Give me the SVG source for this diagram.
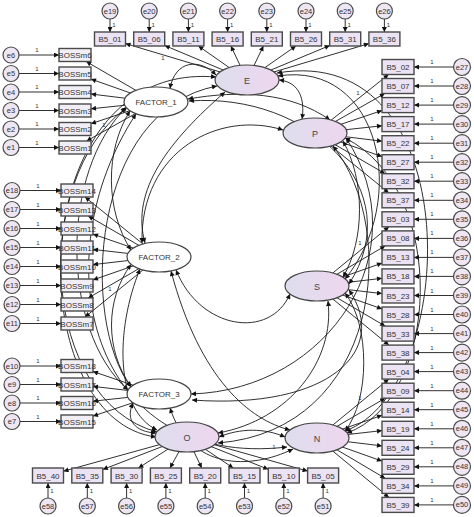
<svg xmlns="http://www.w3.org/2000/svg" width="474" height="517" viewBox="0 0 474 517">
<style>
.bx{fill:#ebe3f3;stroke:#4a4a4a;stroke-width:1.4}
.bm{fill:#f2eef5;stroke:#4a4a4a;stroke-width:1.4}
.er{fill:#efe6f4;stroke:#4a4a4a;stroke-width:1.2}
.lt{stroke:#444;stroke-width:1.2}
.fw{fill:#ffffff}
.t{font-family:"Liberation Sans",Arial,sans-serif;font-size:8px;fill:#333;text-anchor:middle}
.te{font-family:"Liberation Sans",Arial,sans-serif;font-size:7.5px;fill:#333;text-anchor:middle}
.tl{font-family:"Liberation Sans",Arial,sans-serif;font-size:9px;fill:#444;text-anchor:middle}
.o{font-family:"Liberation Sans",Arial,sans-serif;font-size:6px;fill:#333;text-anchor:middle}
.a{stroke:#1a1a1a;stroke-width:0.9;fill:none;marker-end:url(#ah)}
.c{stroke:#1a1a1a;stroke-width:0.9;fill:none;marker-start:url(#ah);marker-end:url(#ah)}
</style>
<defs>
<marker id="ah" viewBox="0 0 10 10" refX="10" refY="5" markerWidth="8" markerHeight="5" orient="auto-start-reverse" markerUnits="userSpaceOnUse"><path d="M0,0 L10,5 L0,10 z" fill="#111"/></marker>
<linearGradient id="lg" x1="0" y1="0" x2="1" y2="0"><stop offset="0" stop-color="#dedeed"/><stop offset="1" stop-color="#eed6ef"/></linearGradient>
</defs>
<rect width="474" height="517" fill="#ffffff"/>

<g id="connectors">
<line class="a" x1="110" y1="19" x2="110" y2="32"/><line class="a" x1="149.2" y1="19" x2="149.2" y2="32"/><line class="a" x1="188.4" y1="19" x2="188.4" y2="32"/><line class="a" x1="227.6" y1="19" x2="227.6" y2="32"/><line class="a" x1="266.8" y1="19" x2="266.8" y2="32"/><line class="a" x1="306" y1="19" x2="306" y2="32"/><line class="a" x1="345.2" y1="19" x2="345.2" y2="32"/><line class="a" x1="384.4" y1="19" x2="384.4" y2="32"/>
<line class="a" x1="19" y1="55" x2="59" y2="55"/><line class="a" x1="19" y1="73.5" x2="59" y2="73.5"/><line class="a" x1="19" y1="92" x2="59" y2="92"/><line class="a" x1="19" y1="110.5" x2="59" y2="110.5"/><line class="a" x1="19" y1="129" x2="59" y2="129"/><line class="a" x1="19" y1="147.5" x2="59" y2="147.5"/>
<line class="a" x1="20" y1="190.5" x2="61" y2="190.5"/><line class="a" x1="20" y1="209.5" x2="61" y2="209.5"/><line class="a" x1="20" y1="228.5" x2="61" y2="228.5"/><line class="a" x1="20" y1="247.5" x2="61" y2="247.5"/><line class="a" x1="20" y1="266.5" x2="61" y2="266.5"/><line class="a" x1="20" y1="285.5" x2="61" y2="285.5"/><line class="a" x1="20" y1="304.5" x2="61" y2="304.5"/><line class="a" x1="20" y1="323.5" x2="61" y2="323.5"/>
<line class="a" x1="20" y1="366" x2="61" y2="366"/><line class="a" x1="20" y1="384.5" x2="61" y2="384.5"/><line class="a" x1="20" y1="403" x2="61" y2="403"/><line class="a" x1="20" y1="421.5" x2="61" y2="421.5"/>
<line class="a" x1="453.5" y1="67" x2="414" y2="67"/><line class="a" x1="453.5" y1="86" x2="414" y2="86"/><line class="a" x1="453.5" y1="105.1" x2="414" y2="105.1"/><line class="a" x1="453.5" y1="124.1" x2="414" y2="124.1"/><line class="a" x1="453.5" y1="143.2" x2="414" y2="143.2"/><line class="a" x1="453.5" y1="162.2" x2="414" y2="162.2"/><line class="a" x1="453.5" y1="181.2" x2="414" y2="181.2"/><line class="a" x1="453.5" y1="200.3" x2="414" y2="200.3"/>
<line class="a" x1="453.5" y1="219.3" x2="414" y2="219.3"/><line class="a" x1="453.5" y1="238.4" x2="414" y2="238.4"/><line class="a" x1="453.5" y1="257.4" x2="414" y2="257.4"/><line class="a" x1="453.5" y1="276.4" x2="414" y2="276.4"/><line class="a" x1="453.5" y1="295.5" x2="414" y2="295.5"/><line class="a" x1="453.5" y1="314.5" x2="414" y2="314.5"/><line class="a" x1="453.5" y1="333.6" x2="414" y2="333.6"/><line class="a" x1="453.5" y1="352.6" x2="414" y2="352.6"/>
<line class="a" x1="453.5" y1="371.6" x2="414" y2="371.6"/><line class="a" x1="453.5" y1="390.7" x2="414" y2="390.7"/><line class="a" x1="453.5" y1="409.7" x2="414" y2="409.7"/><line class="a" x1="453.5" y1="428.8" x2="414" y2="428.8"/><line class="a" x1="453.5" y1="447.8" x2="414" y2="447.8"/><line class="a" x1="453.5" y1="466.8" x2="414" y2="466.8"/><line class="a" x1="453.5" y1="485.9" x2="414" y2="485.9"/><line class="a" x1="453.5" y1="504.9" x2="414" y2="504.9"/>
<line class="a" x1="48" y1="498" x2="48" y2="483"/><line class="a" x1="87.3" y1="498" x2="87.3" y2="483"/><line class="a" x1="126.6" y1="498" x2="126.6" y2="483"/><line class="a" x1="165.9" y1="498" x2="165.9" y2="483"/><line class="a" x1="205.2" y1="498" x2="205.2" y2="483"/><line class="a" x1="244.5" y1="498" x2="244.5" y2="483"/><line class="a" x1="283.8" y1="498" x2="283.8" y2="483"/><line class="a" x1="323.1" y1="498" x2="323.1" y2="483"/>

<line class="a" x1="156" y1="102" x2="86.2" y2="61.5"/><line class="a" x1="156" y1="102" x2="91" y2="79.1"/><line class="a" x1="156" y1="102" x2="91" y2="94"/><line class="a" x1="156" y1="102" x2="91" y2="108.8"/><line class="a" x1="156" y1="102" x2="91" y2="123.7"/><line class="a" x1="156" y1="102" x2="86.6" y2="141"/>
<line class="a" x1="159" y1="257" x2="85" y2="197"/><line class="a" x1="159" y1="257" x2="88.2" y2="216"/><line class="a" x1="159" y1="257" x2="93" y2="234.1"/><line class="a" x1="159" y1="257" x2="93" y2="249.4"/><line class="a" x1="159" y1="257" x2="93" y2="264.6"/><line class="a" x1="159" y1="257" x2="93" y2="279.9"/><line class="a" x1="159" y1="257" x2="88.2" y2="298"/><line class="a" x1="159" y1="257" x2="85" y2="317"/>
<line class="a" x1="159" y1="394" x2="93" y2="371.5"/><line class="a" x1="159" y1="394" x2="93" y2="386.4"/><line class="a" x1="159" y1="394" x2="93" y2="401.2"/><line class="a" x1="159" y1="394" x2="93" y2="416.1"/>
<line class="a" x1="247" y1="80" x2="125.5" y2="43.6"/><line class="a" x1="247" y1="80" x2="164.7" y2="45.5"/><line class="a" x1="247" y1="80" x2="198.4" y2="46"/><line class="a" x1="247" y1="80" x2="230.9" y2="46"/><line class="a" x1="247" y1="80" x2="263.4" y2="46"/><line class="a" x1="247" y1="80" x2="295.9" y2="46"/><line class="a" x1="247" y1="80" x2="329.7" y2="45.5"/><line class="a" x1="247" y1="80" x2="368.9" y2="43.6"/>
<line class="a" x1="315" y1="133" x2="388.6" y2="74.5"/><line class="a" x1="315" y1="133" x2="384.8" y2="93.5"/><line class="a" x1="315" y1="133" x2="382" y2="110.5"/><line class="a" x1="315" y1="133" x2="382" y2="125.8"/><line class="a" x1="315" y1="133" x2="382" y2="141.2"/><line class="a" x1="315" y1="133" x2="382" y2="156.6"/><line class="a" x1="315" y1="133" x2="385.1" y2="173.7"/><line class="a" x1="315" y1="133" x2="388.8" y2="192.8"/>
<line class="a" x1="317" y1="286" x2="388.9" y2="226.8"/><line class="a" x1="317" y1="286" x2="385.2" y2="245.9"/><line class="a" x1="317" y1="286" x2="382" y2="263.1"/><line class="a" x1="317" y1="286" x2="382" y2="278.3"/><line class="a" x1="317" y1="286" x2="382" y2="293.6"/><line class="a" x1="317" y1="286" x2="382" y2="308.9"/><line class="a" x1="317" y1="286" x2="385.2" y2="326.1"/><line class="a" x1="317" y1="286" x2="388.9" y2="345.1"/>
<line class="a" x1="317" y1="438" x2="388.8" y2="379.1"/><line class="a" x1="317" y1="438" x2="385.2" y2="398.2"/><line class="a" x1="317" y1="438" x2="382" y2="415.3"/><line class="a" x1="317" y1="438" x2="382" y2="430.6"/><line class="a" x1="317" y1="438" x2="382" y2="445.9"/><line class="a" x1="317" y1="438" x2="382" y2="461.1"/><line class="a" x1="317" y1="438" x2="385.3" y2="478.4"/><line class="a" x1="317" y1="438" x2="388.9" y2="497.4"/>
<line class="a" x1="187" y1="437" x2="63.5" y2="471.2"/><line class="a" x1="187" y1="437" x2="102.8" y2="469.5"/><line class="a" x1="187" y1="437" x2="138.4" y2="468"/><line class="a" x1="187" y1="437" x2="170" y2="468"/><line class="a" x1="187" y1="437" x2="201.7" y2="468"/><line class="a" x1="187" y1="437" x2="233.3" y2="468"/><line class="a" x1="187" y1="437" x2="268.3" y2="469.3"/><line class="a" x1="187" y1="437" x2="307.6" y2="471.1"/>

<path class="c" d="M170,88.5 C175,60 200,58 216,75"/>
<path class="c" d="M279,80 C300,82 305,100 302,119"/>
<path class="c" d="M176,270 C200,330 270,340 290,294"/>
<path class="c" d="M283,130 C220,110 140,150 142,243"/>
<path class="c" d="M130,111 C105,150 105,210 131,250"/>
<path class="c" d="M131,264.5 C105,300 105,350 131,386.5"/>
<path class="c" d="M133,403 C125,420 135,432 156,433"/>
<path class="c" d="M219,437 C240,428 265,428 285,437"/>
<path class="c" d="M345,431 C370,400 370,325 345,293"/>
<path class="c" d="M343,277 C365,240 365,180 343,141"/>
<path class="c" d="M127,107 C60,170 60,330 128,390"/>
<path class="c" d="M126,108 C30,180 40,400 157,432"/>
<path class="c" d="M225,92 C170,140 130,190 145,243"/>
<path class="c" d="M217,86 C90,110 80,320 131,387"/>
<path class="c" d="M216,77 C20,60 20,420 156,437"/>
<path class="c" d="M140,269 C115,330 115,410 157,430"/>
<path class="c" d="M136,114 C40,260 90,470 287,447"/>
<path class="c" d="M333,146 C400,230 380,430 218,443"/>
<path class="c" d="M170,408 C190,470 250,470 293,449"/>
<path class="c" d="M278,76 C380,60 410,200 345,279"/>
<path class="c" d="M277,73 C470,40 460,390 345,431"/>
<path class="c" d="M345,138 C450,190 440,400 347,433"/>
<path class="c" d="M189,101 C310,92 410,190 349,284"/>
<path class="c" d="M188,99 C240,90 290,92 330,120"/>
<path class="c" d="M328,301 C335,360 290,420 218,433"/>
<path class="c" d="M346,138 C420,250 330,390 191,394"/>
<path class="c" d="M349,290 C390,350 330,410 192,400"/>
<path class="c" d="M171,271 C200,380 250,420 290,430"/>

<text class="o" x="104" y="127">1</text>
<text class="o" x="110" y="291">1</text>
<text class="o" x="163" y="60">1</text>
<text class="o" x="358" y="95">1</text>
<text class="o" x="360" y="245">1</text>
<text class="o" x="360" y="400">1</text>
<text class="o" x="274" y="449">1</text>
</g>

<g id="E"><ellipse cx="247" cy="80" rx="32" ry="15" fill="url(#lg)" class="lt"/><text class="tl" x="247" y="83.5">E</text></g>
<g id="P"><ellipse cx="315" cy="133" rx="32" ry="15" fill="url(#lg)" class="lt"/><text class="tl" x="315" y="136.5">P</text></g>
<g id="S"><ellipse cx="317" cy="286" rx="32" ry="15" fill="url(#lg)" class="lt"/><text class="tl" x="317" y="289.5">S</text></g>
<g id="N"><ellipse cx="317" cy="438" rx="32" ry="15" fill="url(#lg)" class="lt"/><text class="tl" x="317" y="441.5">N</text></g>
<g id="O"><ellipse cx="187" cy="437" rx="32" ry="15" fill="url(#lg)" class="lt"/><text class="tl" x="187" y="440.5">O</text></g>
<g id="FACTOR_1"><ellipse cx="156" cy="102" rx="32" ry="15" class="lt fw"/><text class="t" x="156" y="105">FACTOR_1</text></g>
<g id="FACTOR_2"><ellipse cx="159" cy="257" rx="32" ry="15" class="lt fw"/><text class="t" x="159" y="260">FACTOR_2</text></g>
<g id="FACTOR_3"><ellipse cx="159" cy="394" rx="32" ry="15" class="lt fw"/><text class="t" x="159" y="397">FACTOR_3</text></g>

<g id="B5_01"><rect class="bx" x="94.5" y="32" width="31" height="14"/><text class="t" x="110" y="42">B5_01</text></g>
<g id="B5_06"><rect class="bx" x="133.7" y="32" width="31" height="14"/><text class="t" x="149.2" y="42">B5_06</text></g>
<g id="B5_11"><rect class="bx" x="172.9" y="32" width="31" height="14"/><text class="t" x="188.4" y="42">B5_11</text></g>
<g id="B5_16"><rect class="bx" x="212.1" y="32" width="31" height="14"/><text class="t" x="227.6" y="42">B5_16</text></g>
<g id="B5_21"><rect class="bx" x="251.3" y="32" width="31" height="14"/><text class="t" x="266.8" y="42">B5_21</text></g>
<g id="B5_26"><rect class="bx" x="290.5" y="32" width="31" height="14"/><text class="t" x="306" y="42">B5_26</text></g>
<g id="B5_31"><rect class="bx" x="329.7" y="32" width="31" height="14"/><text class="t" x="345.2" y="42">B5_31</text></g>
<g id="B5_36"><rect class="bx" x="368.9" y="32" width="31" height="14"/><text class="t" x="384.4" y="42">B5_36</text></g>
<g id="e19"><circle class="er" cx="110" cy="11" r="8"/><text class="te" x="110" y="13.5">e19</text><text class="o" x="114" y="27">1</text></g>
<g id="e20"><circle class="er" cx="149.2" cy="11" r="8"/><text class="te" x="149.2" y="13.5">e20</text><text class="o" x="153.2" y="27">1</text></g>
<g id="e21"><circle class="er" cx="188.4" cy="11" r="8"/><text class="te" x="188.4" y="13.5">e21</text><text class="o" x="192.4" y="27">1</text></g>
<g id="e22"><circle class="er" cx="227.6" cy="11" r="8"/><text class="te" x="227.6" y="13.5">e22</text><text class="o" x="231.6" y="27">1</text></g>
<g id="e23"><circle class="er" cx="266.8" cy="11" r="8"/><text class="te" x="266.8" y="13.5">e23</text><text class="o" x="270.8" y="27">1</text></g>
<g id="e24"><circle class="er" cx="306" cy="11" r="8"/><text class="te" x="306" y="13.5">e24</text><text class="o" x="310" y="27">1</text></g>
<g id="e25"><circle class="er" cx="345.2" cy="11" r="8"/><text class="te" x="345.2" y="13.5">e25</text><text class="o" x="349.2" y="27">1</text></g>
<g id="e26"><circle class="er" cx="384.4" cy="11" r="8"/><text class="te" x="384.4" y="13.5">e26</text><text class="o" x="388.4" y="27">1</text></g>

<g id="BOSSm6"><rect class="bm" x="59" y="48.5" width="32" height="13"/><text class="t" x="75" y="58">BOSSm6</text></g>
<g id="BOSSm5"><rect class="bm" x="59" y="67" width="32" height="13"/><text class="t" x="75" y="76.5">BOSSm5</text></g>
<g id="BOSSm4"><rect class="bm" x="59" y="85.5" width="32" height="13"/><text class="t" x="75" y="95">BOSSm4</text></g>
<g id="BOSSm3"><rect class="bm" x="59" y="104" width="32" height="13"/><text class="t" x="75" y="113.5">BOSSm3</text></g>
<g id="BOSSm2"><rect class="bm" x="59" y="122.5" width="32" height="13"/><text class="t" x="75" y="132">BOSSm2</text></g>
<g id="BOSSm1"><rect class="bm" x="59" y="141" width="32" height="13"/><text class="t" x="75" y="150.5">BOSSm1</text></g>
<g id="e6"><circle class="er" cx="11" cy="55" r="8"/><text class="te" x="11" y="57.5">e6</text><text class="o" x="37" y="52">1</text></g>
<g id="e5"><circle class="er" cx="11" cy="73.5" r="8"/><text class="te" x="11" y="76">e5</text><text class="o" x="37" y="70.5">1</text></g>
<g id="e4"><circle class="er" cx="11" cy="92" r="8"/><text class="te" x="11" y="94.5">e4</text><text class="o" x="37" y="89">1</text></g>
<g id="e3"><circle class="er" cx="11" cy="110.5" r="8"/><text class="te" x="11" y="113">e3</text><text class="o" x="37" y="107.5">1</text></g>
<g id="e2"><circle class="er" cx="11" cy="129" r="8"/><text class="te" x="11" y="131.5">e2</text><text class="o" x="37" y="126">1</text></g>
<g id="e1"><circle class="er" cx="11" cy="147.5" r="8"/><text class="te" x="11" y="150">e1</text><text class="o" x="37" y="144.5">1</text></g>

<g id="BOSSm14"><rect class="bm" x="61" y="184" width="32" height="13"/><text class="t" x="77" y="193.5">BOSSm14</text></g>
<g id="BOSSm13"><rect class="bm" x="61" y="203" width="32" height="13"/><text class="t" x="77" y="212.5">BOSSm13</text></g>
<g id="BOSSm12"><rect class="bm" x="61" y="222" width="32" height="13"/><text class="t" x="77" y="231.5">BOSSm12</text></g>
<g id="BOSSm11"><rect class="bm" x="61" y="241" width="32" height="13"/><text class="t" x="77" y="250.5">BOSSm11</text></g>
<g id="BOSSm10"><rect class="bm" x="61" y="260" width="32" height="13"/><text class="t" x="77" y="269.5">BOSSm10</text></g>
<g id="BOSSm9"><rect class="bm" x="61" y="279" width="32" height="13"/><text class="t" x="77" y="288.5">BOSSm9</text></g>
<g id="BOSSm8"><rect class="bm" x="61" y="298" width="32" height="13"/><text class="t" x="77" y="307.5">BOSSm8</text></g>
<g id="BOSSm7"><rect class="bm" x="61" y="317" width="32" height="13"/><text class="t" x="77" y="326.5">BOSSm7</text></g>
<g id="e18"><circle class="er" cx="12" cy="190.5" r="8"/><text class="te" x="12" y="193">e18</text><text class="o" x="38" y="187.5">1</text></g>
<g id="e17"><circle class="er" cx="12" cy="209.5" r="8"/><text class="te" x="12" y="212">e17</text><text class="o" x="38" y="206.5">1</text></g>
<g id="e16"><circle class="er" cx="12" cy="228.5" r="8"/><text class="te" x="12" y="231">e16</text><text class="o" x="38" y="225.5">1</text></g>
<g id="e15"><circle class="er" cx="12" cy="247.5" r="8"/><text class="te" x="12" y="250">e15</text><text class="o" x="38" y="244.5">1</text></g>
<g id="e14"><circle class="er" cx="12" cy="266.5" r="8"/><text class="te" x="12" y="269">e14</text><text class="o" x="38" y="263.5">1</text></g>
<g id="e13"><circle class="er" cx="12" cy="285.5" r="8"/><text class="te" x="12" y="288">e13</text><text class="o" x="38" y="282.5">1</text></g>
<g id="e12"><circle class="er" cx="12" cy="304.5" r="8"/><text class="te" x="12" y="307">e12</text><text class="o" x="38" y="301.5">1</text></g>
<g id="e11"><circle class="er" cx="12" cy="323.5" r="8"/><text class="te" x="12" y="326">e11</text><text class="o" x="38" y="320.5">1</text></g>

<g id="BOSSm18"><rect class="bm" x="61" y="359.5" width="32" height="13"/><text class="t" x="77" y="369">BOSSm18</text></g>
<g id="BOSSm17"><rect class="bm" x="61" y="378" width="32" height="13"/><text class="t" x="77" y="387.5">BOSSm17</text></g>
<g id="BOSSm16"><rect class="bm" x="61" y="396.5" width="32" height="13"/><text class="t" x="77" y="406">BOSSm16</text></g>
<g id="BOSSm15"><rect class="bm" x="61" y="415" width="32" height="13"/><text class="t" x="77" y="424.5">BOSSm15</text></g>
<g id="e10"><circle class="er" cx="12" cy="366" r="8"/><text class="te" x="12" y="368.5">e10</text><text class="o" x="38" y="363">1</text></g>
<g id="e9"><circle class="er" cx="12" cy="384.5" r="8"/><text class="te" x="12" y="387">e9</text><text class="o" x="38" y="381.5">1</text></g>
<g id="e8"><circle class="er" cx="12" cy="403" r="8"/><text class="te" x="12" y="405.5">e8</text><text class="o" x="38" y="400">1</text></g>
<g id="e7"><circle class="er" cx="12" cy="421.5" r="8"/><text class="te" x="12" y="424">e7</text><text class="o" x="38" y="418.5">1</text></g>

<g id="B5_02"><rect class="bx" x="382" y="59.5" width="32" height="15"/><text class="t" x="398" y="70">B5_02</text></g>
<g id="B5_07"><rect class="bx" x="382" y="78.5" width="32" height="15"/><text class="t" x="398" y="89">B5_07</text></g>
<g id="B5_12"><rect class="bx" x="382" y="97.6" width="32" height="15"/><text class="t" x="398" y="108.1">B5_12</text></g>
<g id="B5_17"><rect class="bx" x="382" y="116.6" width="32" height="15"/><text class="t" x="398" y="127.1">B5_17</text></g>
<g id="B5_22"><rect class="bx" x="382" y="135.7" width="32" height="15"/><text class="t" x="398" y="146.2">B5_22</text></g>
<g id="B5_27"><rect class="bx" x="382" y="154.7" width="32" height="15"/><text class="t" x="398" y="165.2">B5_27</text></g>
<g id="B5_32"><rect class="bx" x="382" y="173.7" width="32" height="15"/><text class="t" x="398" y="184.2">B5_32</text></g>
<g id="B5_37"><rect class="bx" x="382" y="192.8" width="32" height="15"/><text class="t" x="398" y="203.3">B5_37</text></g>
<g id="B5_03"><rect class="bx" x="382" y="211.8" width="32" height="15"/><text class="t" x="398" y="222.3">B5_03</text></g>
<g id="B5_08"><rect class="bx" x="382" y="230.9" width="32" height="15"/><text class="t" x="398" y="241.4">B5_08</text></g>
<g id="B5_13"><rect class="bx" x="382" y="249.9" width="32" height="15"/><text class="t" x="398" y="260.4">B5_13</text></g>
<g id="B5_18"><rect class="bx" x="382" y="268.9" width="32" height="15"/><text class="t" x="398" y="279.4">B5_18</text></g>
<g id="B5_23"><rect class="bx" x="382" y="288" width="32" height="15"/><text class="t" x="398" y="298.5">B5_23</text></g>
<g id="B5_28"><rect class="bx" x="382" y="307" width="32" height="15"/><text class="t" x="398" y="317.5">B5_28</text></g>
<g id="B5_33"><rect class="bx" x="382" y="326.1" width="32" height="15"/><text class="t" x="398" y="336.6">B5_33</text></g>
<g id="B5_38"><rect class="bx" x="382" y="345.1" width="32" height="15"/><text class="t" x="398" y="355.6">B5_38</text></g>
<g id="B5_04"><rect class="bx" x="382" y="364.1" width="32" height="15"/><text class="t" x="398" y="374.6">B5_04</text></g>
<g id="B5_09"><rect class="bx" x="382" y="383.2" width="32" height="15"/><text class="t" x="398" y="393.7">B5_09</text></g>
<g id="B5_14"><rect class="bx" x="382" y="402.2" width="32" height="15"/><text class="t" x="398" y="412.7">B5_14</text></g>
<g id="B5_19"><rect class="bx" x="382" y="421.3" width="32" height="15"/><text class="t" x="398" y="431.8">B5_19</text></g>
<g id="B5_24"><rect class="bx" x="382" y="440.3" width="32" height="15"/><text class="t" x="398" y="450.8">B5_24</text></g>
<g id="B5_29"><rect class="bx" x="382" y="459.3" width="32" height="15"/><text class="t" x="398" y="469.8">B5_29</text></g>
<g id="B5_34"><rect class="bx" x="382" y="478.4" width="32" height="15"/><text class="t" x="398" y="488.9">B5_34</text></g>
<g id="B5_39"><rect class="bx" x="382" y="497.4" width="32" height="15"/><text class="t" x="398" y="507.9">B5_39</text></g>
<g id="e27"><circle class="er" cx="462" cy="67" r="8.5"/><text class="te" x="462" y="69.5">e27</text><text class="o" x="432" y="64">1</text></g>
<g id="e28"><circle class="er" cx="462" cy="86" r="8.5"/><text class="te" x="462" y="88.5">e28</text><text class="o" x="432" y="83">1</text></g>
<g id="e29"><circle class="er" cx="462" cy="105.1" r="8.5"/><text class="te" x="462" y="107.6">e29</text><text class="o" x="432" y="102.1">1</text></g>
<g id="e30"><circle class="er" cx="462" cy="124.1" r="8.5"/><text class="te" x="462" y="126.6">e30</text><text class="o" x="432" y="121.1">1</text></g>
<g id="e31"><circle class="er" cx="462" cy="143.2" r="8.5"/><text class="te" x="462" y="145.7">e31</text><text class="o" x="432" y="140.2">1</text></g>
<g id="e32"><circle class="er" cx="462" cy="162.2" r="8.5"/><text class="te" x="462" y="164.7">e32</text><text class="o" x="432" y="159.2">1</text></g>
<g id="e33"><circle class="er" cx="462" cy="181.2" r="8.5"/><text class="te" x="462" y="183.7">e33</text><text class="o" x="432" y="178.2">1</text></g>
<g id="e34"><circle class="er" cx="462" cy="200.3" r="8.5"/><text class="te" x="462" y="202.8">e34</text><text class="o" x="432" y="197.3">1</text></g>
<g id="e35"><circle class="er" cx="462" cy="219.3" r="8.5"/><text class="te" x="462" y="221.8">e35</text><text class="o" x="432" y="216.3">1</text></g>
<g id="e36"><circle class="er" cx="462" cy="238.4" r="8.5"/><text class="te" x="462" y="240.9">e36</text><text class="o" x="432" y="235.4">1</text></g>
<g id="e37"><circle class="er" cx="462" cy="257.4" r="8.5"/><text class="te" x="462" y="259.9">e37</text><text class="o" x="432" y="254.4">1</text></g>
<g id="e38"><circle class="er" cx="462" cy="276.4" r="8.5"/><text class="te" x="462" y="278.9">e38</text><text class="o" x="432" y="273.4">1</text></g>
<g id="e39"><circle class="er" cx="462" cy="295.5" r="8.5"/><text class="te" x="462" y="298">e39</text><text class="o" x="432" y="292.5">1</text></g>
<g id="e40"><circle class="er" cx="462" cy="314.5" r="8.5"/><text class="te" x="462" y="317">e40</text><text class="o" x="432" y="311.5">1</text></g>
<g id="e41"><circle class="er" cx="462" cy="333.6" r="8.5"/><text class="te" x="462" y="336.1">e41</text><text class="o" x="432" y="330.6">1</text></g>
<g id="e42"><circle class="er" cx="462" cy="352.6" r="8.5"/><text class="te" x="462" y="355.1">e42</text><text class="o" x="432" y="349.6">1</text></g>
<g id="e43"><circle class="er" cx="462" cy="371.6" r="8.5"/><text class="te" x="462" y="374.1">e43</text><text class="o" x="432" y="368.6">1</text></g>
<g id="e44"><circle class="er" cx="462" cy="390.7" r="8.5"/><text class="te" x="462" y="393.2">e44</text><text class="o" x="432" y="387.7">1</text></g>
<g id="e45"><circle class="er" cx="462" cy="409.7" r="8.5"/><text class="te" x="462" y="412.2">e45</text><text class="o" x="432" y="406.7">1</text></g>
<g id="e46"><circle class="er" cx="462" cy="428.8" r="8.5"/><text class="te" x="462" y="431.3">e46</text><text class="o" x="432" y="425.8">1</text></g>
<g id="e47"><circle class="er" cx="462" cy="447.8" r="8.5"/><text class="te" x="462" y="450.3">e47</text><text class="o" x="432" y="444.8">1</text></g>
<g id="e48"><circle class="er" cx="462" cy="466.8" r="8.5"/><text class="te" x="462" y="469.3">e48</text><text class="o" x="432" y="463.8">1</text></g>
<g id="e49"><circle class="er" cx="462" cy="485.9" r="8.5"/><text class="te" x="462" y="488.4">e49</text><text class="o" x="432" y="482.9">1</text></g>
<g id="e50"><circle class="er" cx="462" cy="504.9" r="8.5"/><text class="te" x="462" y="507.4">e50</text><text class="o" x="432" y="501.9">1</text></g>

<g id="B5_40"><rect class="bx" x="32.5" y="468" width="31" height="15"/><text class="t" x="48" y="478.5">B5_40</text></g>
<g id="B5_35"><rect class="bx" x="71.8" y="468" width="31" height="15"/><text class="t" x="87.3" y="478.5">B5_35</text></g>
<g id="B5_30"><rect class="bx" x="111.1" y="468" width="31" height="15"/><text class="t" x="126.6" y="478.5">B5_30</text></g>
<g id="B5_25"><rect class="bx" x="150.4" y="468" width="31" height="15"/><text class="t" x="165.9" y="478.5">B5_25</text></g>
<g id="B5_20"><rect class="bx" x="189.7" y="468" width="31" height="15"/><text class="t" x="205.2" y="478.5">B5_20</text></g>
<g id="B5_15"><rect class="bx" x="229" y="468" width="31" height="15"/><text class="t" x="244.5" y="478.5">B5_15</text></g>
<g id="B5_10"><rect class="bx" x="268.3" y="468" width="31" height="15"/><text class="t" x="283.8" y="478.5">B5_10</text></g>
<g id="B5_05"><rect class="bx" x="307.6" y="468" width="31" height="15"/><text class="t" x="323.1" y="478.5">B5_05</text></g>
<g id="e58"><circle class="er" cx="48" cy="506" r="8"/><text class="te" x="48" y="508.5">e58</text><text class="o" x="52" y="493">1</text></g>
<g id="e57"><circle class="er" cx="87.3" cy="506" r="8"/><text class="te" x="87.3" y="508.5">e57</text><text class="o" x="91.3" y="493">1</text></g>
<g id="e56"><circle class="er" cx="126.6" cy="506" r="8"/><text class="te" x="126.6" y="508.5">e56</text><text class="o" x="130.6" y="493">1</text></g>
<g id="e55"><circle class="er" cx="165.9" cy="506" r="8"/><text class="te" x="165.9" y="508.5">e55</text><text class="o" x="169.9" y="493">1</text></g>
<g id="e54"><circle class="er" cx="205.2" cy="506" r="8"/><text class="te" x="205.2" y="508.5">e54</text><text class="o" x="209.2" y="493">1</text></g>
<g id="e53"><circle class="er" cx="244.5" cy="506" r="8"/><text class="te" x="244.5" y="508.5">e53</text><text class="o" x="248.5" y="493">1</text></g>
<g id="e52"><circle class="er" cx="283.8" cy="506" r="8"/><text class="te" x="283.8" y="508.5">e52</text><text class="o" x="287.8" y="493">1</text></g>
<g id="e51"><circle class="er" cx="323.1" cy="506" r="8"/><text class="te" x="323.1" y="508.5">e51</text><text class="o" x="327.1" y="493">1</text></g>
</svg>
